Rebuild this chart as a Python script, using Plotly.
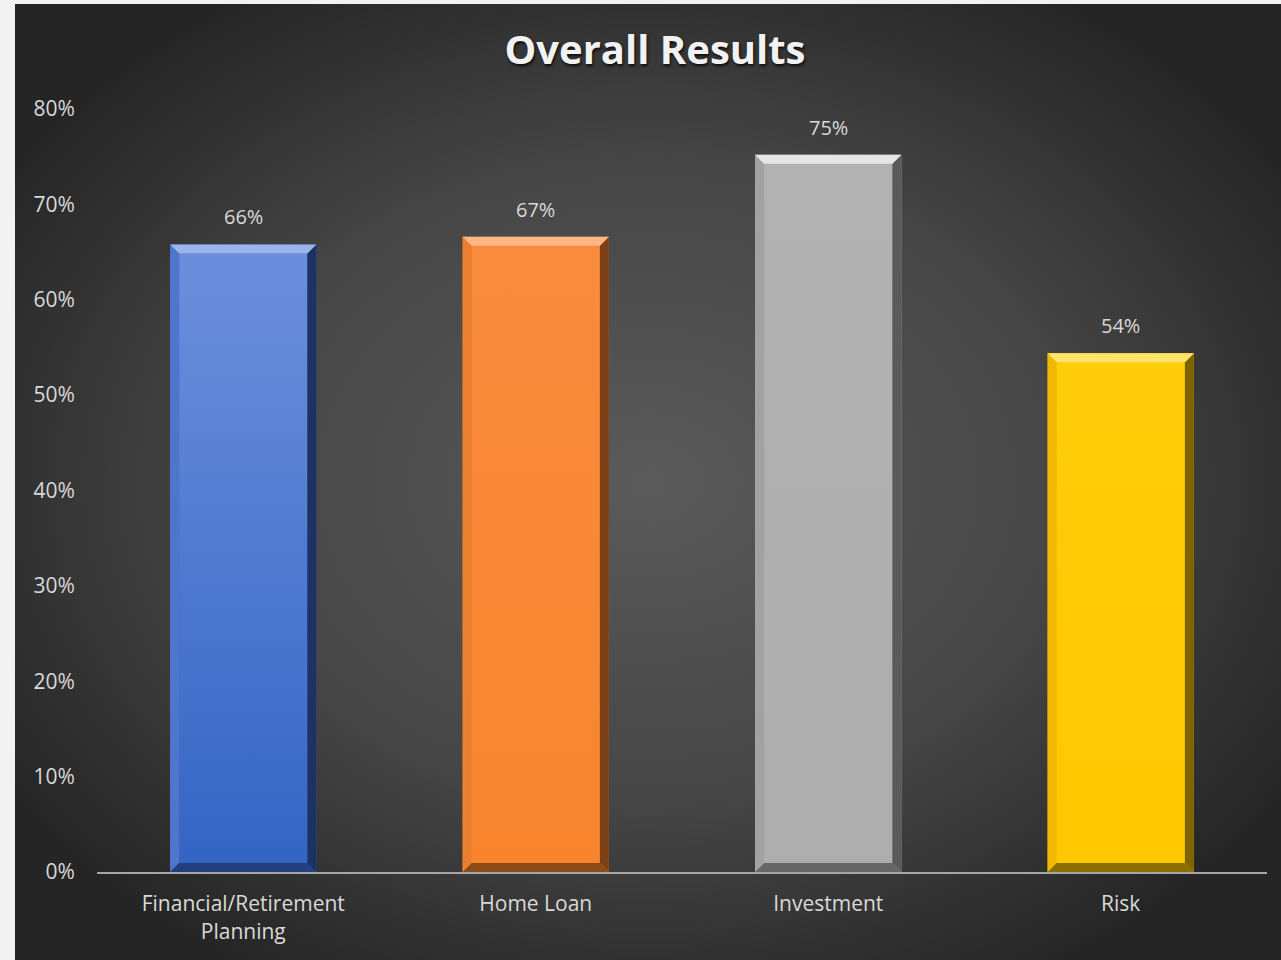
import base64
import plotly.graph_objects as go

categories = ["Financial/Retirement<br>Planning", "Home Loan", "Investment", "Risk"]
values = [0.658, 0.666, 0.752, 0.544]
face_top = ["#6c8fdc", "#f98b3e", "#b2b2b2", "#ffcd0a"]
face_bottom = ["#3465c4", "#f8852e", "#adadad", "#ffc800"]
top_colors = ["#9ab5ec", "#fcb583", "#e6e6e6", "#ffe56a"]
left_colors = ["#4d76cc", "#ea7f30", "#a2a2a2", "#f0b900"]
right_colors = ["#1d3262", "#7c4016", "#5a5a5a", "#7e6400"]
bottom_colors = ["#22407e", "#8c4a18", "#666666", "#8a6e00"]
y_ticks = [0, 0.1, 0.2, 0.3, 0.4, 0.5, 0.6, 0.7, 0.8]

W, H = 1281, 960
L, R, T, B = 97, 14, 109, 88
pw, ph = W - L - R, H - T - B

svg = f'''<svg xmlns="http://www.w3.org/2000/svg" width="{W-15}" height="{H-4}">
<defs><radialGradient id="g" cx="50%" cy="50%" r="60%">
<stop offset="0" stop-color="#5a5a5a"/><stop offset="0.55" stop-color="#464646"/>
<stop offset="1" stop-color="#252525"/></radialGradient></defs>
<rect width="100%" height="100%" fill="url(#g)"/></svg>'''
src = "data:image/svg+xml;base64," + base64.b64encode(svg.encode()).decode()

xs = list(range(len(categories)))
fig = go.Figure()
fig.add_trace(go.Bar(
    x=xs, y=values,
    marker=dict(color=face_bottom, line=dict(width=0)),
    width=0.5, hoverinfo="skip",
))

dy = 9 / ph * 0.8
dx = 9 / (pw / 4)


def path(pts):
    return "M " + " L ".join(f"{a},{b}" for a, b in pts) + " Z"


shapes = []
for i, v in enumerate(values):
    x0, x1 = i - 0.25, i + 0.25
    fig.add_trace(go.Scatter(
        x=[x0 + dx, x1 - dx, x1 - dx, x0 + dx, x0 + dx],
        y=[dy, dy, v - dy, v - dy, dy],
        mode="lines", line=dict(width=0), fill="toself",
        fillgradient=dict(type="vertical", colorscale=[[0, face_bottom[i]], [1, face_top[i]]]),
        hoverinfo="skip", showlegend=False,
    ))
    shapes.append(dict(type="path", xref="x", yref="y", line=dict(width=0), fillcolor=left_colors[i],
                       path=path([(x0, v), (x0 + dx, v - dy), (x0 + dx, dy), (x0, 0)])))
    shapes.append(dict(type="path", xref="x", yref="y", line=dict(width=0), fillcolor=right_colors[i],
                       path=path([(x1, v), (x1 - dx, v - dy), (x1 - dx, dy), (x1, 0)])))
    shapes.append(dict(type="path", xref="x", yref="y", line=dict(width=0), fillcolor=bottom_colors[i],
                       path=path([(x0, 0), (x1, 0), (x1 - dx, dy), (x0 + dx, dy)])))
    shapes.append(dict(type="path", xref="x", yref="y", line=dict(width=0), fillcolor=top_colors[i],
                       path=path([(x0, v), (x1, v), (x1 - dx, v - dy), (x0 + dx, v - dy)])))

annotations = [dict(x=x, y=v, xref="x", yref="y", text=f"{round(v * 100)}%", showarrow=False,
                    yanchor="bottom", yshift=12,
                    font=dict(family="Open Sans", size=20, color="#d9d9d9"))
               for x, v in zip(xs, values)]

fig.update_layout(
    width=W, height=H,
    margin=dict(l=L, r=R, t=T, b=B),
    paper_bgcolor="#f2f2f2", plot_bgcolor="rgba(0,0,0,0)",
    showlegend=False,
    shapes=shapes,
    annotations=annotations,
    images=[dict(source=src, xref="paper", yref="paper",
                 x=(15 - L) / pw, y=(H - B - 4) / ph,
                 sizex=(W - 15) / pw, sizey=(H - 4) / ph,
                 xanchor="left", yanchor="top", sizing="stretch", layer="below")],
    title=dict(text="<b>Overall Results</b>", x=655 / W, xanchor="center", y=1 - 50 / H, yanchor="middle",
               font=dict(family="Open Sans", size=40, color="#f2f2f2", shadow="1px 2px 3px rgba(0,0,0,0.8)")),
    xaxis=dict(tickmode="array", tickvals=xs, ticktext=categories,
               range=[-0.5, 3.5], showgrid=False, zeroline=False,
               showline=True, linecolor="#a6a6a6", linewidth=2,
               ticks="outside", ticklen=12, tickcolor="rgba(0,0,0,0)",
               tickfont=dict(family="Open Sans", size=21, color="#d9d9d9")),
    yaxis=dict(range=[0, 0.8], tickvals=y_ticks, tickformat=".0%", showgrid=False, zeroline=False,
               showline=False, ticks="outside", ticklen=17, tickcolor="rgba(0,0,0,0)",
               tickfont=dict(family="Open Sans", size=21, color="#d9d9d9")),
)
fig.write_html("out.html")
